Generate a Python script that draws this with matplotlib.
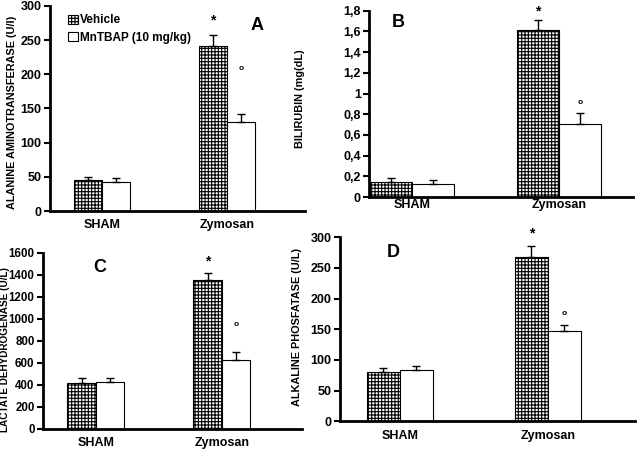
import numpy as np
import matplotlib
matplotlib.use('Agg')
import matplotlib.pyplot as plt
from matplotlib.patches import Patch
from matplotlib.ticker import FuncFormatter

plt.rcParams.update({
    'font.family': ['Liberation Sans', 'DejaVu Sans'],
    'font.weight': 'bold',
    'font.size': 9,
    'hatch.linewidth': 0.8,
})

# data
groups = ['SHAM', 'Zymosan']
series = ['Vehicle', 'MnTBAP (10 mg/kg)']

alt_vehicle = [46, 242]
alt_vehicle_err = [4, 16]
alt_mntbap = [42, 130]
alt_mntbap_err = [6, 12]

bil_vehicle = [0.15, 1.61]
bil_vehicle_err = [0.03, 0.10]
bil_mntbap = [0.13, 0.71]
bil_mntbap_err = [0.04, 0.10]

ldh_vehicle = [420, 1350]
ldh_vehicle_err = [40, 70]
ldh_mntbap = [425, 630]
ldh_mntbap_err = [35, 65]

alp_vehicle = [81, 268]
alp_vehicle_err = [6, 18]
alp_mntbap = [84, 147]
alp_mntbap_err = [6, 10]

fig = plt.figure(figsize=(6.4, 4.5), dpi=100)

# layout per panel
panels = [
    dict(letter='A', ylabel='ALANINE AMINOTRANSFERASE (U/l)',
         veh=alt_vehicle, verr=alt_vehicle_err, mnt=alt_mntbap, merr=alt_mntbap_err,
         ymax=300, step=50, rect=[0.078, 0.531, 0.399, 0.456], xlim=(-0.416, 1.624), w=0.224,
         lpos=(0.81, 0.905), offs=(10, 33), lcoords=(-0.13, 0.48), xpad=6, tsize=9, lsize=7.8),
    dict(letter='B', ylabel='BILIRUBIN (mg(dL)',
         veh=bil_vehicle, verr=bil_vehicle_err, mnt=bil_mntbap, merr=bil_mntbap_err,
         ymax=1.8, step=0.2, rect=[0.577, 0.562, 0.412, 0.414], xlim=(-0.293, 1.503), w=0.286,
         lpos=(0.11, 0.935), offs=(6, 8), lcoords=(-0.245, 0.53), xpad=1.5, tsize=9, lsize=7.8),
    dict(letter='C', ylabel='LACTATE DEHYDROGENASE (U/L)',
         veh=ldh_vehicle, verr=ldh_vehicle_err, mnt=ldh_mntbap, merr=ldh_mntbap_err,
         ymax=1600, step=200, rect=[0.067, 0.047, 0.405, 0.391], xlim=(-0.42, 1.635), w=0.226,
         lpos=(0.22, 0.915), offs=(8, 20), lcoords=(-0.125, 0.45), xpad=6, tsize=8.3, lsize=7.2),
    dict(letter='D', ylabel='ALKALINE PHOSFATASE (U/L)',
         veh=alp_vehicle, verr=alp_vehicle_err, mnt=alp_mntbap, merr=alp_mntbap_err,
         ymax=300, step=50, rect=[0.531, 0.064, 0.461, 0.409], xlim=(-0.405, 1.588), w=0.223,
         lpos=(0.18, 0.918), offs=(9, 8), lcoords=(-0.129, 0.51), xpad=6, tsize=9, lsize=7.8),
]

x = np.arange(len(groups))

for p in panels:
    w = p['w']
    ax = fig.add_axes(p['rect'])
    ax.bar(x - w / 2, p['veh'], w, color='white', edgecolor='black', hatch='+++++', linewidth=0.8)
    ax.bar(x + w / 2, p['mnt'], w, color='white', edgecolor='black', linewidth=0.8)
    ax.errorbar(x - w / 2, p['veh'], yerr=[np.zeros(2), p['verr']], fmt='none', ecolor='black',
                elinewidth=1, capsize=3, capthick=1)
    ax.errorbar(x + w / 2, p['mnt'], yerr=[np.zeros(2), p['merr']], fmt='none', ecolor='black',
                elinewidth=1, capsize=3, capthick=1)

    # significance marks on Zymosan
    ax.annotate('*', (x[1] - w / 2, p['veh'][1] + p['verr'][1]), xytext=(0, p['offs'][0]),
                textcoords='offset points', ha='center', va='center', fontsize=10)
    ax.annotate('o', (x[1] + w / 2, p['mnt'][1] + p['merr'][1]), xytext=(0, p['offs'][1]),
                textcoords='offset points', ha='center', va='center', fontsize=6)

    ax.set_xlim(*p['xlim'])
    ax.set_ylim(0, p['ymax'])
    ax.set_yticks(np.arange(0, p['ymax'] + p['step'] / 2, p['step']))
    if p['letter'] == 'B':
        ax.yaxis.set_major_formatter(FuncFormatter(
            lambda v, pos: ('%g' % round(v, 1)).replace('.', ',')))
    ax.set_xticks(x)
    ax.set_xticklabels(groups, fontsize=9, fontweight='bold')
    ax.tick_params(axis='x', length=0, pad=p['xpad'])
    ax.tick_params(axis='y', length=4, width=1.5, direction='out', labelsize=p['tsize'], pad=2)
    for lab in ax.get_yticklabels():
        lab.set_fontweight('bold')
    ax.set_ylabel(p['ylabel'], fontsize=p['lsize'], fontweight='bold')
    ax.yaxis.set_label_coords(*p['lcoords'])
    for s in ['top', 'right']:
        ax.spines[s].set_visible(False)
    for s in ['left', 'bottom']:
        ax.spines[s].set_linewidth(2)
    ax.text(p['lpos'][0], p['lpos'][1], p['letter'], transform=ax.transAxes, fontsize=13,
            fontweight='bold', ha='center', va='center')

    if p['letter'] == 'A':
        handles = [Patch(facecolor='white', edgecolor='black', hatch='+++++', linewidth=0.8),
                   Patch(facecolor='white', edgecolor='black', linewidth=0.8)]
        ax.legend(handles, series, loc='upper left', bbox_to_anchor=(0.03, 1.01),
                  frameon=False, handlelength=0.8, handleheight=0.8,
                  handletextpad=0.2, labelspacing=0.45, prop={'weight': 'bold', 'size': 8.5})

fig.savefig('out.png', dpi=100)
